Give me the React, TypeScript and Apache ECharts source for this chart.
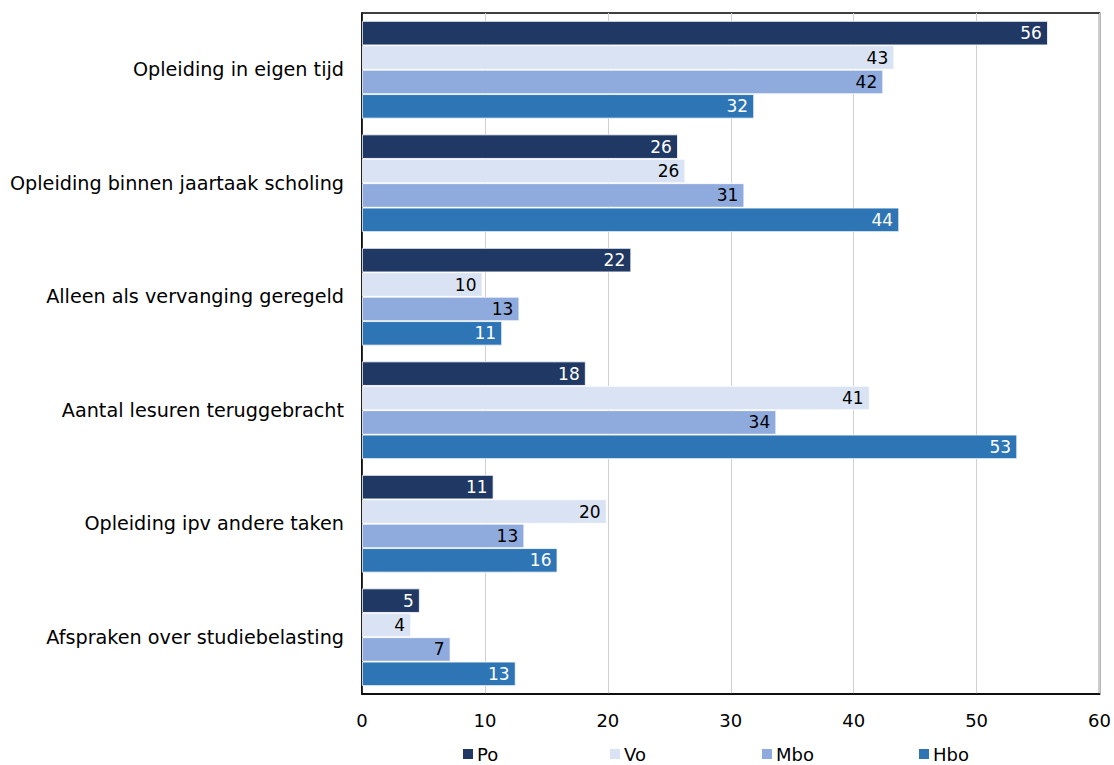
import React, { useEffect, useRef } from "react";
import * as echarts from "echarts";

const categories = [
  "Opleiding in eigen tijd",
  "Opleiding binnen jaartaak scholing",
  "Alleen als vervanging geregeld",
  "Aantal lesuren teruggebracht",
  "Opleiding ipv andere taken",
  "Afspraken over studiebelasting",
];
const seriesNames = ["Po", "Vo", "Mbo", "Hbo"];
const po = [55.8, 25.7, 21.9, 18.2, 10.7, 4.7];
const vo = [43.3, 26.3, 9.8, 41.3, 19.9, 4.0];
const mbo = [42.4, 31.1, 12.8, 33.7, 13.2, 7.2];
const hbo = [31.9, 43.7, 11.4, 53.3, 15.9, 12.5];
const xTicks = [0, 10, 20, 30, 40, 50, 60];

const FONT = "DejaVu Sans";
const legendLefts = [461, 608, 760, 917];

export default function App() {
  const ref = useRef<HTMLDivElement>(null);
  useEffect(() => {
    const chart = echarts.init(ref.current!, null, { renderer: "svg" });
    const mk = (name: string, data: number[], color: string, labelColor: string) => ({
      name,
      type: "bar",
      data,
      barGap: "0%",
      barCategoryGap: "14%",
      itemStyle: { color, borderColor: "#ffffff", borderWidth: 0.8 },
      label: {
        show: true,
        position: "insideRight",
        color: labelColor,
        fontFamily: FONT,
        fontSize: 17,
        distance: 6,
        formatter: (p: any) => String(Math.round(p.value)),
      },
    });
    chart.setOption({
      animation: false,
      textStyle: { fontFamily: FONT },
      grid: {
        left: 362,
        right: 14,
        top: 13,
        bottom: 71,
        show: true,
        borderColor: "#000",
        borderWidth: 1.5,
        containLabel: false,
      },
      legend: seriesNames.map((n, i) => ({
        bottom: 2,
        left: legendLefts[i],
        padding: 0,
        itemWidth: 12,
        itemHeight: 12,
        itemGap: 4,
        icon: "rect",
        textStyle: { fontFamily: FONT, fontSize: 18, color: "#000", padding: [0, 0, 0, -2] },
        data: [n],
      })),
      xAxis: {
        type: "value",
        min: 0,
        max: 60,
        interval: 10,
        axisLine: { show: true, lineStyle: { color: "#000", width: 1.5 } },
        axisTick: { show: false },
        splitLine: { show: true, lineStyle: { color: "#d0d0d0", width: 1 } },
        axisLabel: {
          color: "#000",
          fontFamily: FONT,
          fontSize: 18,
          margin: 17,
          formatter: (v: number) => (xTicks.includes(v) ? String(v) : ""),
        },
      },
      yAxis: {
        type: "category",
        inverse: true,
        data: categories,
        axisLine: { show: true, lineStyle: { color: "#000", width: 1.5 } },
        axisTick: { show: false },
        axisLabel: { color: "#000", fontFamily: FONT, fontSize: 19.2, margin: 18 },
      },
      series: [
        mk("Po", po, "#203864", "#ffffff"),
        mk("Vo", vo, "#DAE3F3", "#000000"),
        mk("Mbo", mbo, "#8FAADC", "#000000"),
        mk("Hbo", hbo, "#2E75B6", "#ffffff"),
      ],
    });
    return () => chart.dispose();
  }, []);
  return <div ref={ref} style={{ width: 1114, height: 765, position: "absolute", left: 0, top: 0 }} />;
}
